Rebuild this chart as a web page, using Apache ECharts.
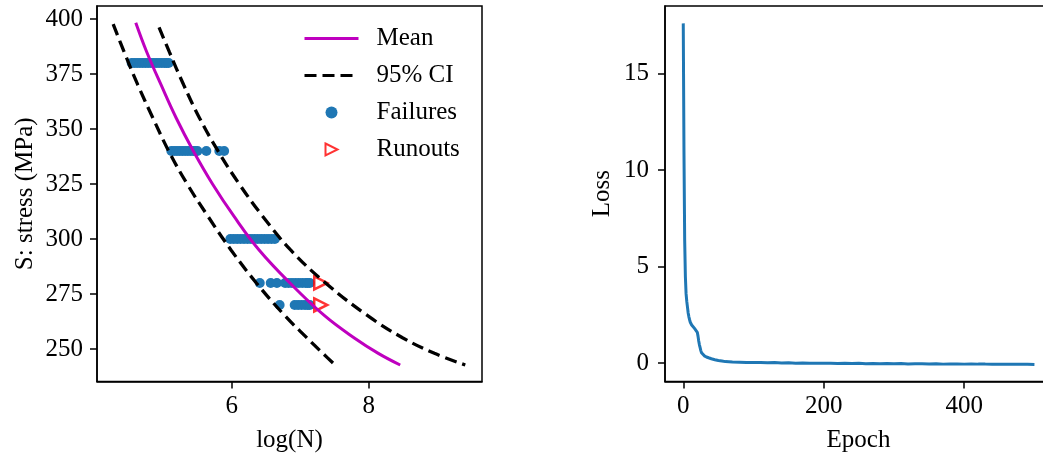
<!DOCTYPE html>
<html><head><meta charset="utf-8">
<script src="https://cdn.jsdelivr.net/npm/echarts@6/dist/echarts.min.js"></script>
<style>html,body{margin:0;padding:0;background:#fff}#c{width:1043px;height:459px}</style>
</head><body><div id="c"></div>
<script>
// ---- Left panel: S-N data ----
const meanN  = [4.60, 4.76, 4.97, 5.19, 5.44, 5.72, 6.04, 6.40, 6.85, 7.36, 7.79, 8.14, 8.46];
const meanS  = [398.3, 385, 370, 355, 340, 325, 310, 295, 280, 265, 255, 248, 242.7];
const lowerN = [4.27, 4.43, 4.63, 4.85, 5.08, 5.35, 5.66, 5.99, 6.36, 6.78, 7.10, 7.33, 7.51];
const lowerS = [397.7, 385, 370, 355, 340, 325, 310, 295, 280, 265, 255, 248, 242.7];
const upperN = [4.94, 5.09, 5.30, 5.53, 5.80, 6.11, 6.46, 6.86, 7.37, 7.99, 8.50, 8.96, 9.41];
const upperS = [396.2, 385, 370, 355, 340, 325, 310, 295, 280, 265, 255, 248, 242.7];

const fail380 = [4.54, 4.58, 4.62, 4.66, 4.70, 4.74, 4.78, 4.82, 4.86, 4.90, 4.94, 4.98, 5.02, 5.05, 5.08];
const fail340 = [5.12, 5.16, 5.20, 5.24, 5.28, 5.32, 5.36, 5.40, 5.44, 5.47, 5.50, 5.63, 5.82, 5.89];
const fail300 = [5.98, 6.03, 6.08, 6.13, 6.18, 6.23, 6.28, 6.33, 6.38, 6.43, 6.48, 6.53, 6.58, 6.63];
const fail280 = [6.41, 6.57, 6.66, 6.78, 6.83, 6.88, 6.93, 6.98, 7.03, 7.08, 7.11, 7.14];
const fail270 = [6.70, 6.92, 6.97, 7.02, 7.07, 7.11, 7.14];
const stressLevels = [380, 340, 300, 280, 270];
const runoutN = [7.30, 7.30];
const runoutS = [280, 270];

const leftXTicks = [6, 8];
const leftYTicks = [250, 275, 300, 325, 350, 375, 400];

// ---- Right panel: training loss ----
const epochs = [0,1,2,3,4,5,6,7,8,9,10,12,14,16,18,20,21,22,23,24,25,26,28,30,33,36,40,45,50,55,60,
  70,80,90,100,110,120,130,140,150,160,170,180,190,200,210,220,230,240,250,260,270,280,290,300,
  310,320,330,340,350,360,370,380,390,400,410,420,430,440,450,460,470,480,490,500];
const loss = [17.6,11.0,6.4,4.5,3.6,3.2,2.9,2.6,2.4,2.25,2.12,1.98,1.88,1.80,1.72,1.60,1.40,1.15,0.95,0.80,0.65,0.54,0.44,0.38,0.32,0.28,0.23,0.18,0.14,0.11,0.08,
  0.06,0.05,0.04,0.03,0.04,0.02,0.03,0.01,0.02,0.00,0.01,0.00,-0.01,0.00,-0.01,-0.02,0.00,-0.02,-0.01,-0.03,-0.02,-0.03,-0.02,-0.03,
  -0.02,-0.04,-0.03,-0.03,-0.04,-0.03,-0.05,-0.04,-0.04,-0.05,-0.04,-0.05,-0.05,-0.06,-0.05,-0.06,-0.05,-0.06,-0.06,-0.07];
const rightXTicks = [0, 200, 400];
const rightYTicks = [0, 5, 10, 15];

const zip = (a, b) => a.map((v, i) => [v, b[i]]);
const failures = [];
[fail380, fail340, fail300, fail280, fail270].forEach((row, k) => row.forEach(n => failures.push([n, stressLevels[k]])));

const FONT = '"Liberation Serif", "Times New Roman", serif';
const TRI = 'path://M0,0L12,6L0,12Z';

function axis(extra, ticks, name, nameGap, labelMargin) {
  return Object.assign({
    type: 'value', name: name, nameLocation: 'middle', nameGap: nameGap,
    nameTextStyle: {fontFamily: FONT, fontSize: 25, color: '#000'},
    axisLine: {show: true, onZero: false, lineStyle: {color: '#000', width: 1.5}},
    axisTick: {show: true, length: 7, lineStyle: {color: '#000', width: 1.5}, customValues: ticks},
    axisLabel: {fontFamily: FONT, fontSize: 25, color: '#000', customValues: ticks, margin: labelMargin},
    splitLine: {show: false}
  }, extra);
}

const hiddenSymbol = {opacity: 0, color: 'rgba(0,0,0,0)', borderWidth: 0};

const chart = echarts.init(document.getElementById('c'), null, {renderer: 'canvas'});
chart.setOption({
  animation: false,
  backgroundColor: '#fff',
  textStyle: {fontFamily: FONT},
  grid: [
    {left: 97, top: 6, width: 385, height: 375.5, show: true, borderColor: '#000', borderWidth: 1.5, containLabel: false, outerBoundsMode: 'none'},
    {left: 665, top: 6, width: 387, height: 375.5, show: true, borderColor: '#000', borderWidth: 1.5, containLabel: false, outerBoundsMode: 'none'}
  ],
  xAxis: [
    axis({gridIndex: 0, min: 4.034, max: 9.654}, leftXTicks, 'log(N)', 46, 12),
    axis({gridIndex: 1, min: -26, max: 525}, rightXTicks, 'Epoch', 46, 12)
  ],
  yAxis: [
    axis({gridIndex: 0, min: 235.2, max: 405.9}, leftYTicks, 'S: stress (MPa)', 59, 14),
    axis({gridIndex: 1, min: -0.95, max: 18.5}, rightYTicks, 'Loss', 50, 16)
  ],
  legend: {
    orient: 'vertical', left: 303, top: 26, padding: 0, itemWidth: 54, itemHeight: 12, itemGap: 12,
    selectedMode: false,
    lineStyle: {width: 3},
    textStyle: {fontFamily: FONT, fontSize: 25, color: '#000', padding: [0, 0, 0, 13]},
    data: [
      {name: 'Mean', itemStyle: hiddenSymbol},
      {name: '95% CI', itemStyle: hiddenSymbol},
      {name: 'Failures', icon: 'circle'},
      {name: 'Runouts', icon: TRI}
    ]
  },
  series: [
    {name: 'Failures', type: 'scatter', xAxisIndex: 0, yAxisIndex: 0, data: failures, symbolSize: 10, z: 1,
      itemStyle: {color: '#1f77b4', opacity: 1}},
    {name: 'Runouts', type: 'scatter', xAxisIndex: 0, yAxisIndex: 0, data: zip(runoutN, runoutS), symbol: TRI, symbolSize: [13, 13], z: 1,
      itemStyle: {color: 'rgba(0,0,0,0)', borderColor: '#ff0000', borderWidth: 2.5}},
    {name: 'Mean', type: 'line', xAxisIndex: 0, yAxisIndex: 0, data: zip(meanN, meanS), smooth: 0.4, showSymbol: false, symbol: 'none', z: 3,
      lineStyle: {color: '#bf00bf', width: 3}, itemStyle: {color: '#bf00bf'}},
    {name: '95% CI', type: 'line', xAxisIndex: 0, yAxisIndex: 0, data: zip(lowerN, lowerS), smooth: 0.4, showSymbol: false, symbol: 'none', z: 3,
      lineStyle: {color: '#000', width: 3.3, type: [12, 6]}, itemStyle: {color: '#000'}},
    {name: '95% CI', type: 'line', xAxisIndex: 0, yAxisIndex: 0, data: zip(upperN, upperS), smooth: 0.4, showSymbol: false, symbol: 'none', z: 3,
      lineStyle: {color: '#000', width: 3.3, type: [12, 6]}, itemStyle: {color: '#000'}},
    {name: 'loss', type: 'line', xAxisIndex: 1, yAxisIndex: 1, data: zip(epochs, loss), showSymbol: false, symbol: 'none',
      lineStyle: {color: '#1f77b4', width: 3}}
  ]
});
</script></body></html>
